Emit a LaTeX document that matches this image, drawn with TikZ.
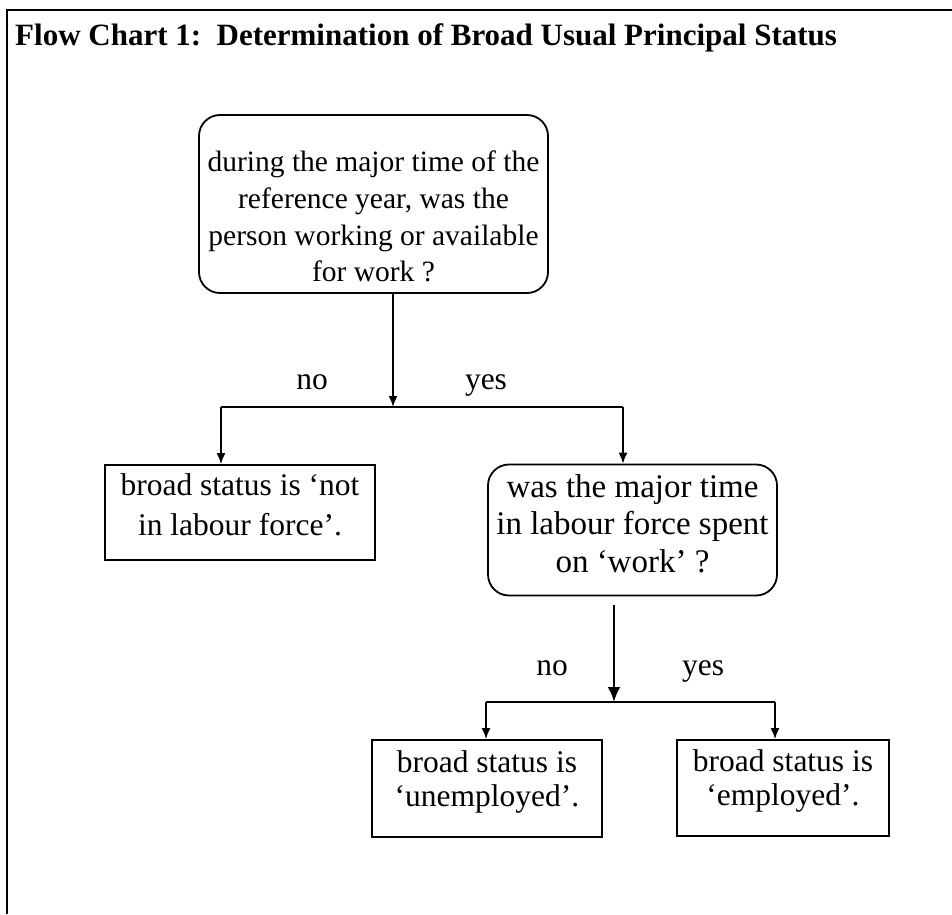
\documentclass[tikz,border=0pt]{standalone}
\usepackage{fontspec}
\setmainfont{Liberation Serif}
\usetikzlibrary{arrows.meta}

\tikzset{
	question/.style={draw, line width=1.8pt, rounded corners=21pt, align=center, inner sep=0pt},
	answer/.style={draw, line width=1.8pt, align=center, inner sep=0pt},
	wire/.style={line width=1.8pt},
	link/.style={line width=1.8pt, arrows={-Latex[length=11pt,width=9pt]}},
	biglink/.style={line width=2.6pt, arrows={-Latex[length=15pt,width=13pt]}},
	branch/.style={anchor=base, inner sep=0pt}
}
% invisible struts to sit the lines where the boxes have them
\newcommand{\uppad}[1]{\rule{0pt}{#1}}
\newcommand{\downpad}[1]{\rule[-#1]{0pt}{#1}}

\begin{document}
\begin{tikzpicture}[x=1pt,y=-1pt,font=\fontsize{31.5}{36.5}\selectfont]
	\useasboundingbox (0,0) rectangle (952,914);
	% frame and title
	\draw[line width=2.2pt] (7,914) -- (7,10) -- (952,10);
	\node[anchor=base west, inner sep=0pt, font=\fontsize{31}{36}\selectfont\bfseries]
	(title) at (15,45) {Flow Chart 1:\ \ Determination of Broad Usual Principal Status};

	% first question
	\node[question, minimum width=349pt, minimum height=178pt,
	font=\fontsize{29.5}{36.7}\selectfont] (q1) at (373.5,204)
	{\uppad{46pt}during the major time of the\\reference year, was the\\person working or available\\for work ?};
	\coordinate (s1) at (393,407);
	\coordinate (s1l) at (221,407);
	\coordinate (s1r) at (623,407);
	\draw[link] (q1.south -| s1) -- (s1);
	\draw[wire] (s1l) -- (s1r);
	\node[branch] (no1) at (312,389) {no};
	\node[branch] (yes1) at (486,389) {yes};

	\node[answer, minimum width=270pt, minimum height=95pt,
	font=\fontsize{31.5}{40}\selectfont] (nlf) at (240,512.5)
	{broad status is ‘not\\in labour force’.\downpad{16.5pt}};
	\draw[link] (s1l) -- (s1l |- nlf.north);

	% second question
	\node[question, minimum width=289pt, minimum height=131pt,
	font=\fontsize{33}{37.5}\selectfont] (q2) at (632.5,530)
	{was the major time\\in labour force spent\\on ‘work’ ?\downpad{13pt}};
	\draw[link] (s1r) -- (s1r |- q2.north);
	\coordinate (s2) at (614,702);
	\coordinate (s2l) at (486,702);
	\coordinate (s2r) at (775,702);
	\draw[biglink] ([yshift=-9pt]q2.south -| s2) -- (s2);
	\draw[wire] (s2l) -- (s2r);
	\node[branch] (no2) at (552,675) {no};
	\node[branch] (yes2) at (703,675) {yes};

	\node[answer, minimum width=230pt, minimum height=97pt,
	font=\fontsize{31.5}{34}\selectfont] (unemp) at (487,788.5)
	{broad status is\\‘unemployed’.\downpad{20.5pt}};
	\node[answer, minimum width=212pt, minimum height=96pt,
	font=\fontsize{31.5}{34}\selectfont] (emp) at (783,788)
	{broad status is\\‘employed’.\downpad{20pt}};
	\draw[link] (s2l) -- (s2l |- unemp.north);
	\draw[link] (s2r) -- (s2r |- emp.north);
\end{tikzpicture}
\end{document}
